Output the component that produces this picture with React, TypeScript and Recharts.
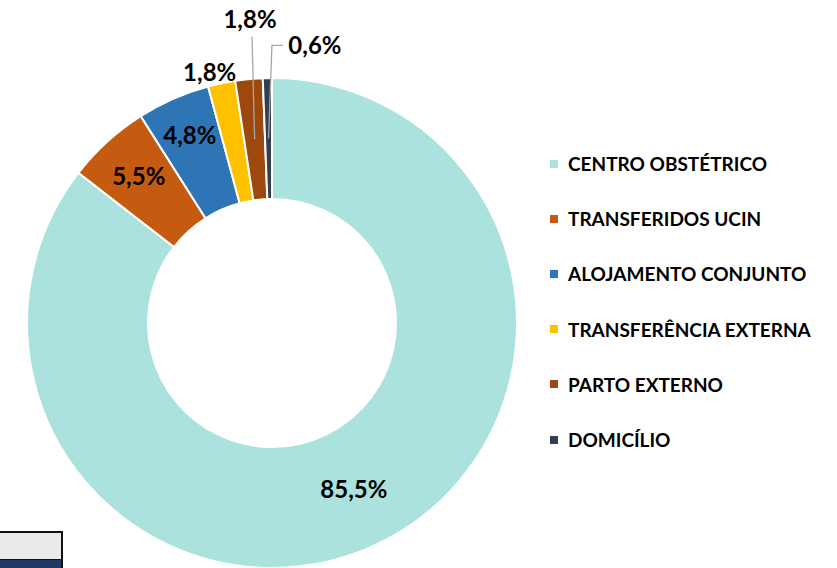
import React from "react";
import { PieChart, Pie, Cell, Legend } from "recharts";

const CATEGORIES = [
  "CENTRO OBSTÉTRICO",
  "TRANSFERIDOS UCIN",
  "ALOJAMENTO CONJUNTO",
  "TRANSFERÊNCIA EXTERNA",
  "PARTO EXTERNO",
  "DOMICÍLIO",
];
const VALUES = [85.5, 5.5, 4.8, 1.8, 1.8, 0.6];
const COLORS = ["#ABE2DE", "#C55A11", "#2E75B6", "#FFC000", "#9E480E", "#333F50"];

// label placement: radius from centre and angular shift from slice mid-angle
const LABEL_LAYOUT = [
  { r: 186, d: 0, leader: null },
  { r: 198, d: 0, leader: null },
  { r: 204, d: 0, leader: null },
  { r: 258, d: 2.1, leader: null },
  { r: 304, d: -1.25, leader: "straight" },
  { r: 280, d: -9.9, leader: "elbow" },
];

const data = CATEGORIES.map((name, i) => ({ name, value: VALUES[i], fill: COLORS[i] }));

const FONT = "Lato, 'Open Sans', sans-serif";
const RAD = Math.PI / 180;

const fmt = (v: number) => v.toFixed(1).replace(".", ",") + "%";

const renderLabel = (props: any) => {
  const { cx, cy, midAngle, innerRadius, outerRadius, index, value } = props;
  const lay = LABEL_LAYOUT[index];
  const a = (midAngle + lay.d) * RAD;
  const lx = cx + lay.r * Math.cos(-a);
  const ly = cy + lay.r * Math.sin(-a);
  const mr = (innerRadius + outerRadius) / 2;
  const sx = cx + mr * Math.cos(-midAngle * RAD);
  const sy = cy + mr * Math.sin(-midAngle * RAD);
  let line = null;
  if (lay.leader === "straight") {
    line = (
      <polyline
        points={`${sx},${sy} ${lx + 2},${ly + 17}`}
        fill="none"
        stroke="#A6A6A6"
        strokeWidth={1.3}
      />
    );
  } else if (lay.leader === "elbow") {
    line = (
      <polyline
        points={`${sx},${sy} ${lx - 43},${ly - 1} ${lx - 32},${ly - 1}`}
        fill="none"
        stroke="#A6A6A6"
        strokeWidth={1.3}
      />
    );
  }
  return (
    <g key={`lbl-${index}`}>
      {line}
      <text
        x={lx}
        y={ly + 8}
        textAnchor="middle"
        fill="#000"
        style={{ fontFamily: FONT, fontWeight: 700, fontSize: 24 }}
      >
        {fmt(value)}
      </text>
    </g>
  );
};

const renderLegend = (props: any) => {
  const raw = props.payload && props.payload.length ? props.payload : data.map((d) => ({ value: d.name, color: d.fill }));
  const payload = [...raw].sort((a: any, b: any) => CATEGORIES.indexOf(a.value) - CATEGORIES.indexOf(b.value));
  return (
    <div style={{ fontFamily: FONT, fontWeight: 700, fontSize: 19, color: "#000" }}>
      {payload.map((p: any, i: number) => (
        <div key={i} style={{ height: 55.2, display: "flex", alignItems: "center", whiteSpace: "nowrap" }}>
          <span
            style={{
              display: "inline-block",
              width: 8,
              height: 8,
              background: p.color || (p.payload && p.payload.fill),
              marginRight: 10,
            }}
          />
          <span>{p.value}</span>
        </div>
      ))}
    </div>
  );
};

export default function App() {
  return (
    <div style={{ position: "absolute", left: 0, top: 0, width: 837, height: 568, background: "#fff", overflow: "hidden" }}>
      <PieChart width={837} height={568} margin={{ top: 0, right: 0, bottom: 0, left: 0 }}>
        <Pie
          data={data}
          dataKey="value"
          nameKey="name"
          cx={272}
          cy={323}
          innerRadius={124}
          outerRadius={245}
          startAngle={90}
          endAngle={-270}
          stroke="#FFFFFF"
          strokeWidth={2}
          label={renderLabel}
          labelLine={false}
          isAnimationActive={false}
        >
          {data.map((d, i) => (
            <Cell key={i} fill={d.fill} />
          ))}
        </Pie>
        <Legend
          layout="vertical"
          align="right"
          verticalAlign="middle"
          content={renderLegend}
          wrapperStyle={{ position: "absolute", left: 550, top: 136, width: 287 }}
        />
      </PieChart>
      <div
        style={{
          position: "absolute",
          left: -2,
          top: 531,
          width: 61,
          height: 26,
          background: "#EAEAEA",
          border: "2px solid #111",
        }}
      />
      <div
        style={{
          position: "absolute",
          left: 0,
          top: 560,
          width: 61,
          height: 8,
          background: "#203864",
          borderRight: "2px solid #111",
        }}
      />
    </div>
  );
}
